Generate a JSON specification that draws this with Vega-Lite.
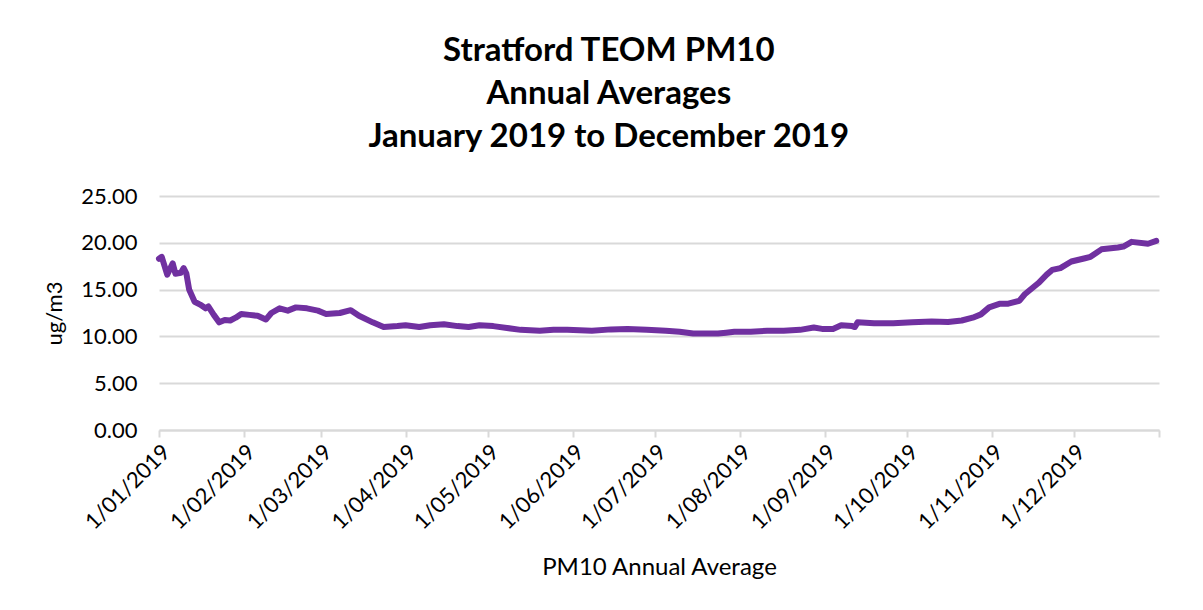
{
  "$schema": "https://vega.github.io/schema/vega-lite/v6.json",
  "width": 1000,
  "height": 234,
  "padding": {"left": 43, "top": 35, "right": 40, "bottom": 10},
  "background": "white",
  "title": {
    "text": ["Stratford TEOM PM10", "Annual Averages", "January 2019 to December 2019"],
    "font": "Lato",
    "fontSize": 33,
    "fontWeight": "bold",
    "color": "#000000",
    "lineHeight": 43,
    "anchor": "middle",
    "frame": "bounds",
    "offset": 31
  },
  "data": {
    "values": [
      {"date": "2019-01-01", "pm10": 18.3},
      {"date": "2019-01-02", "pm10": 18.5},
      {"date": "2019-01-04", "pm10": 16.6},
      {"date": "2019-01-06", "pm10": 17.8},
      {"date": "2019-01-07", "pm10": 16.7},
      {"date": "2019-01-09", "pm10": 16.8},
      {"date": "2019-01-10", "pm10": 17.3},
      {"date": "2019-01-11", "pm10": 16.7},
      {"date": "2019-01-12", "pm10": 15.0},
      {"date": "2019-01-14", "pm10": 13.7},
      {"date": "2019-01-16", "pm10": 13.4},
      {"date": "2019-01-18", "pm10": 13.0},
      {"date": "2019-01-19", "pm10": 13.2},
      {"date": "2019-01-21", "pm10": 12.3},
      {"date": "2019-01-23", "pm10": 11.5},
      {"date": "2019-01-25", "pm10": 11.75},
      {"date": "2019-01-27", "pm10": 11.7},
      {"date": "2019-01-29", "pm10": 12.0},
      {"date": "2019-01-31", "pm10": 12.4},
      {"date": "2019-02-03", "pm10": 12.3},
      {"date": "2019-02-06", "pm10": 12.2},
      {"date": "2019-02-09", "pm10": 11.8},
      {"date": "2019-02-11", "pm10": 12.5},
      {"date": "2019-02-14", "pm10": 13.0},
      {"date": "2019-02-17", "pm10": 12.75},
      {"date": "2019-02-20", "pm10": 13.1},
      {"date": "2019-02-24", "pm10": 13.0},
      {"date": "2019-02-28", "pm10": 12.75},
      {"date": "2019-03-03", "pm10": 12.4},
      {"date": "2019-03-08", "pm10": 12.5},
      {"date": "2019-03-12", "pm10": 12.8},
      {"date": "2019-03-15", "pm10": 12.2},
      {"date": "2019-03-20", "pm10": 11.5},
      {"date": "2019-03-24", "pm10": 11.0},
      {"date": "2019-03-29", "pm10": 11.1},
      {"date": "2019-04-01", "pm10": 11.2},
      {"date": "2019-04-06", "pm10": 11.0},
      {"date": "2019-04-10", "pm10": 11.2},
      {"date": "2019-04-15", "pm10": 11.3},
      {"date": "2019-04-20", "pm10": 11.1},
      {"date": "2019-04-24", "pm10": 11.0},
      {"date": "2019-04-28", "pm10": 11.2},
      {"date": "2019-05-03", "pm10": 11.1},
      {"date": "2019-05-08", "pm10": 10.9},
      {"date": "2019-05-13", "pm10": 10.7},
      {"date": "2019-05-20", "pm10": 10.6},
      {"date": "2019-05-25", "pm10": 10.7},
      {"date": "2019-05-30", "pm10": 10.7},
      {"date": "2019-06-08", "pm10": 10.6},
      {"date": "2019-06-15", "pm10": 10.75},
      {"date": "2019-06-21", "pm10": 10.8},
      {"date": "2019-06-28", "pm10": 10.7},
      {"date": "2019-07-05", "pm10": 10.6},
      {"date": "2019-07-10", "pm10": 10.5},
      {"date": "2019-07-15", "pm10": 10.3},
      {"date": "2019-07-24", "pm10": 10.3},
      {"date": "2019-07-27", "pm10": 10.4},
      {"date": "2019-07-30", "pm10": 10.5},
      {"date": "2019-08-05", "pm10": 10.5},
      {"date": "2019-08-11", "pm10": 10.6},
      {"date": "2019-08-17", "pm10": 10.6},
      {"date": "2019-08-23", "pm10": 10.7},
      {"date": "2019-08-28", "pm10": 10.95},
      {"date": "2019-08-31", "pm10": 10.8},
      {"date": "2019-09-04", "pm10": 10.8},
      {"date": "2019-09-07", "pm10": 11.2},
      {"date": "2019-09-11", "pm10": 11.1},
      {"date": "2019-09-12", "pm10": 11.0},
      {"date": "2019-09-13", "pm10": 11.5},
      {"date": "2019-09-19", "pm10": 11.4},
      {"date": "2019-09-26", "pm10": 11.4},
      {"date": "2019-10-03", "pm10": 11.5},
      {"date": "2019-10-10", "pm10": 11.6},
      {"date": "2019-10-16", "pm10": 11.55},
      {"date": "2019-10-21", "pm10": 11.7},
      {"date": "2019-10-25", "pm10": 12.0},
      {"date": "2019-10-28", "pm10": 12.35},
      {"date": "2019-10-31", "pm10": 13.1},
      {"date": "2019-11-04", "pm10": 13.5},
      {"date": "2019-11-07", "pm10": 13.5},
      {"date": "2019-11-11", "pm10": 13.8},
      {"date": "2019-11-13", "pm10": 14.5},
      {"date": "2019-11-18", "pm10": 15.7},
      {"date": "2019-11-21", "pm10": 16.6},
      {"date": "2019-11-23", "pm10": 17.1},
      {"date": "2019-11-26", "pm10": 17.3},
      {"date": "2019-11-30", "pm10": 18.0},
      {"date": "2019-12-05", "pm10": 18.35},
      {"date": "2019-12-07", "pm10": 18.5},
      {"date": "2019-12-11", "pm10": 19.3},
      {"date": "2019-12-17", "pm10": 19.5},
      {"date": "2019-12-19", "pm10": 19.6},
      {"date": "2019-12-22", "pm10": 20.1},
      {"date": "2019-12-28", "pm10": 19.9},
      {"date": "2019-12-31", "pm10": 20.2}
    ]
  },
  "mark": {"type": "line", "color": "#7030A0", "strokeWidth": 6, "strokeCap": "round", "strokeJoin": "round"},
  "encoding": {
    "x": {
      "field": "date",
      "type": "temporal",
      "scale": {"type": "utc", "domain": [{"year": 2019, "month": 1, "date": 1, "utc": true}, {"year": 2020, "month": 1, "date": 1, "utc": true}]},
      "axis": {
        "title": "PM10 Annual Average",
        "titleFont": "Lato",
        "titleFontSize": 24,
        "titleFontWeight": "normal",
        "titleColor": "#000000",
        "titlePadding": 22,
        "values": [
          {"year": 2019, "month": 1, "date": 1, "utc": true},
          {"year": 2019, "month": 2, "date": 1, "utc": true},
          {"year": 2019, "month": 3, "date": 1, "utc": true},
          {"year": 2019, "month": 4, "date": 1, "utc": true},
          {"year": 2019, "month": 5, "date": 1, "utc": true},
          {"year": 2019, "month": 6, "date": 1, "utc": true},
          {"year": 2019, "month": 7, "date": 1, "utc": true},
          {"year": 2019, "month": 8, "date": 1, "utc": true},
          {"year": 2019, "month": 9, "date": 1, "utc": true},
          {"year": 2019, "month": 10, "date": 1, "utc": true},
          {"year": 2019, "month": 11, "date": 1, "utc": true},
          {"year": 2019, "month": 12, "date": 1, "utc": true},
          {"year": 2020, "month": 1, "date": 1, "utc": true}
        ],
        "labelExpr": "utcFormat(datum.value, '%Y') == '2020' ? '' : utcFormat(datum.value, '%-d/%m/%Y')",
        "labelAngle": -45,
        "labelFont": "Lato",
        "labelFontSize": 22,
        "labelColor": "#000000",
        "labelPadding": 4,
        "labelOverlap": false,
        "labelBound": false,
        "labelFlush": false,
        "grid": false,
        "domainColor": "#d9d9d9",
        "domainWidth": 2,
        "tickColor": "#d9d9d9",
        "tickWidth": 2,
        "tickSize": 7
      }
    },
    "y": {
      "field": "pm10",
      "type": "quantitative",
      "scale": {"domain": [0, 25], "nice": false},
      "axis": {
        "title": "ug/m3",
        "titleFont": "Lato",
        "titleFontSize": 22,
        "titleFontWeight": "normal",
        "titleColor": "#000000",
        "titlePadding": 14,
        "values": [0, 5, 10, 15, 20, 25],
        "format": ".2f",
        "labelFont": "Lato",
        "labelFontSize": 22,
        "labelColor": "#000000",
        "labelPadding": 22,
        "domain": false,
        "ticks": false,
        "gridColor": "#d9d9d9",
        "gridWidth": 2
      }
    }
  },
  "config": {
    "view": {"stroke": null}
  }
}
